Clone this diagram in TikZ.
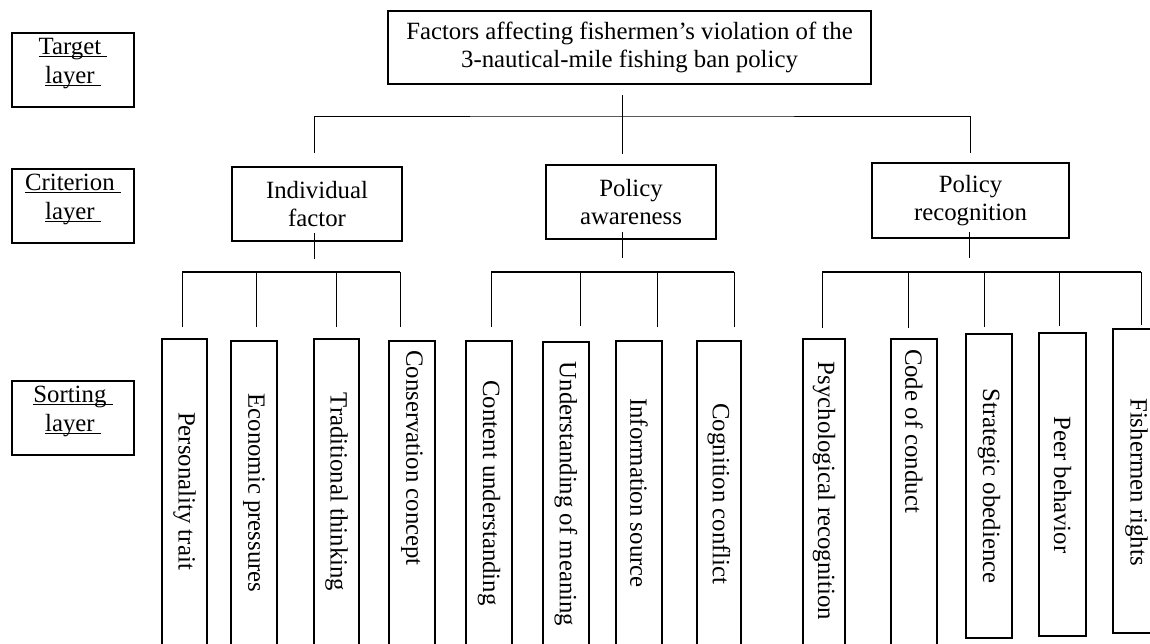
\documentclass[tikz,border=0pt]{standalone}
\usepackage{fontspec}
\setmainfont{Liberation Serif}
\newcommand\fs{\fontsize{24.8}{28}\selectfont}
\newcommand\ul[1]{\underline{\smash{#1}\ }}
\newcommand\leaf[7]{%
  \node[leafbox, minimum width={#3-#2}, minimum height={#5-#4}] (#1) at ({(#2+#3)/2},{(#4+#5)/2}) {};
  \node[leaftext] (#1-t) at ({(#2+#3)/2},#6) {#7};
}
\begin{document}
\begin{tikzpicture}[x=1pt,y=-1pt,
  box/.style={draw, line width=1.4pt, inner sep=0pt, align=center, font=\fs},
  leafbox/.style={draw, line width=1.4pt, inner sep=0pt},
  leaftext/.style={rotate=-90, inner sep=0pt, font=\fs},
  conn/.style={line width=0.9pt},
  bar/.style={line width=1.4pt}]
\useasboundingbox (0,0) rectangle (1150,643);
\clip (0,0) rectangle (1150,643);

% layer labels
\node[box, minimum width=122, minimum height=74] (lt) at (73,70) {\ul{Target}\\[1pt]\ul{layer}};
\node[box, minimum width=122, minimum height=74] (lc) at (73,206) {\ul{Criterion}\\[1pt]\ul{layer}};
\node[box, minimum width=122, minimum height=74] (ls) at (73,418) {\ul{Sorting}\\[1pt]\ul{layer}};

% target
\node[box, minimum width=483, minimum height=73] (top) at (629.5,47.5)
  {Factors affecting fishermen’s violation of the\\3-nautical-mile fishing ban policy};

% criteria
\node[box, minimum width=170, minimum height=74] (c1) at (317,204) {Individual\\factor};
\node[box, minimum width=170, minimum height=74] (c2) at (631,202) {Policy\\awareness};
\node[box, minimum width=197, minimum height=75] (c3) at (970.5,200.5) {Policy\\recognition};

% target -> criteria connectors
\coordinate (ts) at (622,95);
\coordinate (hub) at (622,116);
\coordinate (c1n) at (314,153);
\coordinate (c2n) at (622,154);
\coordinate (c3n) at (970,153);
\draw[conn] (ts) -- (c2n);
\draw[conn] (c1n) |- (hub) -| (c3n);

% criteria down lines
\coordinate (c1s) at (314,233); \coordinate (c1b) at (314,259);
\coordinate (c2s) at (622,232); \coordinate (c2b) at (622,258);
\coordinate (c3s) at (969,232); \coordinate (c3b) at (969,258);
\draw[conn] (c1s) -- (c1b);
\draw[conn] (c2s) -- (c2b);
\draw[conn] (c3s) -- (c3b);

% bars
\coordinate (b1l) at (182,272); \coordinate (b1r) at (400,272);
\coordinate (b2l) at (491,272); \coordinate (b2r) at (734,272);
\coordinate (b3l) at (822,272); \coordinate (b3r) at (1141,272);
\draw[bar] (b1l) -- (b1r);
\draw[bar] (b2l) -- (b2r);
\draw[bar] (b3l) -- (b3r);
\foreach \x/\e in {182/327,256/327,336/327,400/327,491/327,580/326,657/327,734/327,822/328,908/328,984/327,1059/326,1141/325}{
  \coordinate (d\x) at (\x,\e);
  \draw[conn] (\x,272) -- (d\x);
}

% leaves
\leaf{p1}{162}{207}{339}{660}{491}{Personality trait}
\leaf{p2}{231}{277}{341}{660}{493}{Economic pressures}
\leaf{p3}{314}{359}{339}{660}{492}{Traditional thinking}
\leaf{p4}{389}{435}{341}{660}{458}{Conservation concept}
\leaf{a1}{466}{512}{341}{660}{493}{Content understanding}
\leaf{a2}{543}{589}{342}{660}{494}{Understanding of meaning}
\leaf{a3}{616}{662}{341}{660}{493}{Information source}
\leaf{a4}{697}{741}{341}{660}{494}{Cognition conflict}
\leaf{r1}{803}{845}{339}{660}{491}{Psychological recognition}
\leaf{r2}{891}{937}{339}{660}{431}{Code of conduct}
\leaf{r3}{966}{1012}{334}{638}{486}{Strategic obedience}
\leaf{r4}{1039}{1086}{333}{636}{485}{Peer behavior}
\leaf{r5}{1113}{1160}{329}{633}{482}{Fishermen rights}
\end{tikzpicture}
\end{document}
